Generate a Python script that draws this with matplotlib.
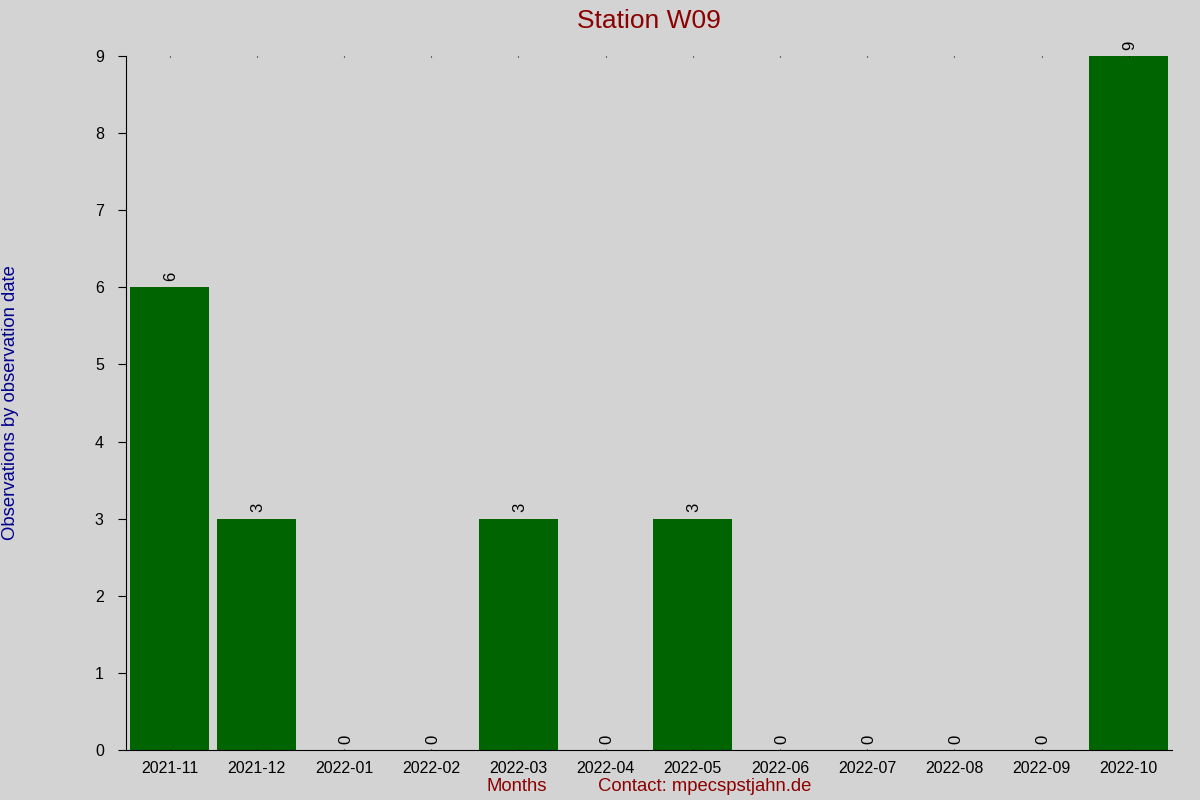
import matplotlib
matplotlib.use("Agg")
import matplotlib.pyplot as plt

months = ["2021-11", "2021-12", "2022-01", "2022-02", "2022-03", "2022-04",
          "2022-05", "2022-06", "2022-07", "2022-08", "2022-09", "2022-10"]
counts = [6, 3, 0, 0, 3, 0, 3, 0, 0, 0, 0, 9]

plt.rcParams['font.family'] = ['Liberation Sans', 'DejaVu Sans']

fig = plt.figure(figsize=(12, 8), dpi=100, facecolor="#d3d3d3")
ax = fig.add_axes([0.105, 0.0625, 0.872, 0.8675])
ax.set_facecolor("#d3d3d3")

x = list(range(len(months)))
ax.bar(x, counts, width=0.91, color="#006400")

# value labels on top of each bar
for xi, c in zip(x, counts):
    ax.annotate(str(c), (xi, c), xytext=(1, 4.5), textcoords="offset points",
                rotation=90, ha="center", va="bottom", fontsize=12)

ax.set_xlim(-0.5, len(months) - 0.5)
ax.set_ylim(0, 9)
ax.set_yticks(range(0, 10))
ax.set_xticks(x)
ax.set_xticklabels(months)
ax.tick_params(axis="both", labelsize=11.5, length=6, colors="black")
ax.tick_params(axis="x", length=0, pad=8)
ax.tick_params(axis="x", top=True, direction="in", length=1)
ax.tick_params(axis="y", pad=10)

ax.spines["top"].set_visible(False)
ax.spines["right"].set_visible(False)

fig.text(0.541, 0.974, "Station W09", ha="center", va="center",
         fontsize=19, color="#8b0000")
fig.text(0.009, 0.497, "Observations by observation date", rotation=90,
         ha="center", va="center", fontsize=13.3, color="#00008b")
fig.text(0.431, 0.017, "Months", ha="center", va="center",
         fontsize=13.3, color="#8b0000")
fig.text(0.498, 0.017, "Contact: mpecspstjahn.de", ha="left", va="center",
         fontsize=13.3, color="#8b0000")

fig.savefig("out.png", dpi=100, facecolor=fig.get_facecolor())
